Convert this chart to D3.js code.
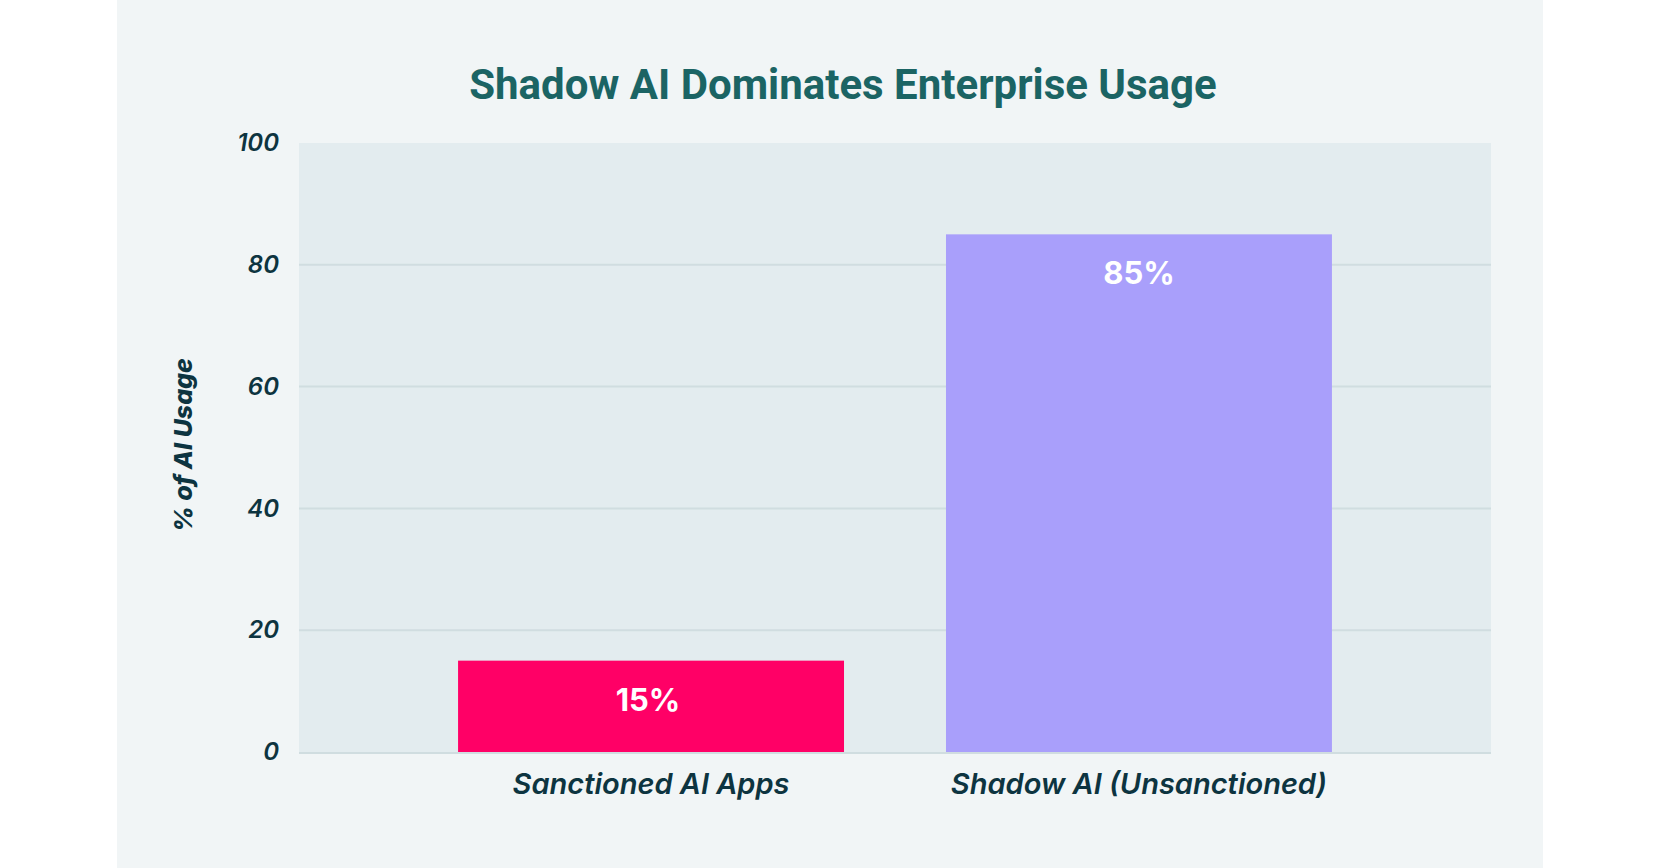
<!DOCTYPE html>
<html>
<head>
<meta charset="utf-8">
<script src="https://cdn.jsdelivr.net/npm/d3@7"></script>
<style>
  html, body { margin: 0; padding: 0; background: #ffffff; }
  svg { display: block; }
</style>
</head>
<body>
<svg id="chart" width="1660" height="868"></svg>
<script>
const categories = ["Sanctioned AI Apps", "Shadow AI (Unsanctioned)"];
const values = [15, 85];
const valueLabels = ["15%", "85%"];
const barColors = ["#ff0066", "#a99ffb"];
const yTicks = [0, 20, 40, 60, 80, 100];
const titleText = "Shadow AI Dominates Enterprise Usage";
const yAxisTitle = "% of AI Usage";

const W = 1660, H = 868;
const svg = d3.select("#chart");

// outer panel
svg.append("rect").attr("x", 117).attr("y", 0).attr("width", 1426).attr("height", H).attr("fill", "#f1f5f6");

const plot = { left: 299, right: 1491, top: 143, bottom: 752 };

const x = d3.scaleBand().domain(categories).range([plot.left, plot.right]).paddingInner(0.209).paddingOuter(0.326);
const y = d3.scaleLinear().domain([0, 100]).range([plot.bottom, plot.top]);

// plot background
svg.append("rect").attr("x", plot.left).attr("y", plot.top)
  .attr("width", plot.right - plot.left).attr("height", plot.bottom - plot.top)
  .attr("fill", "#e3ecef");

// gridlines
svg.append("g").selectAll("line").data(yTicks.filter(d => d > 0 && d < 100)).join("line")
  .attr("x1", plot.left).attr("x2", plot.right)
  .attr("y1", d => y(d)).attr("y2", d => y(d))
  .attr("stroke", "#d0dde0").attr("stroke-width", 2);

// bars
svg.append("g").selectAll("rect").data(categories).join("rect")
  .attr("x", d => x(d)).attr("width", x.bandwidth())
  .attr("y", (d, i) => y(values[i])).attr("height", (d, i) => y(0) - y(values[i]))
  .attr("fill", (d, i) => barColors[i]);

// baseline
svg.append("line").attr("x1", plot.left).attr("x2", plot.right)
  .attr("y1", y(0) + 1).attr("y2", y(0) + 1)
  .attr("stroke", "#d0dde0").attr("stroke-width", 2);

// bar value labels
svg.append("g").selectAll("text").data(categories).join("text")
  .attr("x", (d, i) => x(d) + x.bandwidth() / 2 - (i === 0 ? 3 : 0))
  .attr("y", (d, i) => y(values[i]) + 50)
  .attr("text-anchor", "middle")
  .attr("font-family", "Inter, 'Noto Sans', sans-serif")
  .attr("font-weight", 700).attr("font-size", 31)
  .attr("fill", "#ffffff")
  .text((d, i) => valueLabels[i]);

// y axis ticks
const yAxis = d3.axisLeft(y).tickValues(yTicks).tickSize(0).tickPadding(20);
const gy = svg.append("g").attr("transform", `translate(${plot.left},0)`).call(yAxis);
gy.select(".domain").remove();
gy.selectAll("text")
  .attr("font-family", "Inter, 'Noto Sans', sans-serif")
  .attr("font-style", "italic").attr("font-weight", 600).attr("font-size", 24)
  .attr("fill", "#0d3440");

// x axis labels
const xAxis = d3.axisBottom(x).tickSize(0).tickPadding(0);
const gx = svg.append("g").attr("transform", `translate(0,${plot.bottom})`).call(xAxis);
gx.select(".domain").remove();
gx.selectAll("text")
  .attr("dy", null).attr("y", 42)
  .attr("font-family", "Inter, 'Noto Sans', sans-serif")
  .attr("font-style", "italic").attr("font-weight", 600).attr("font-size", 29)
  .attr("fill", "#0d3440");

// y axis title
svg.append("text")
  .attr("transform", "translate(192,445) rotate(-90)")
  .attr("text-anchor", "middle")
  .attr("font-family", "Inter, 'Noto Sans', sans-serif")
  .attr("font-style", "italic").attr("font-weight", 800).attr("font-size", 25)
  .attr("fill", "#0d3440")
  .text(yAxisTitle);

// title
svg.append("text")
  .attr("x", 843).attr("y", 99)
  .attr("text-anchor", "middle")
  .attr("font-family", "Roboto, 'Noto Sans', sans-serif")
  .attr("font-weight", 700).attr("font-size", 42)
  .attr("fill", "#1b6464")
  .text(titleText);
</script>
</body>
</html>
